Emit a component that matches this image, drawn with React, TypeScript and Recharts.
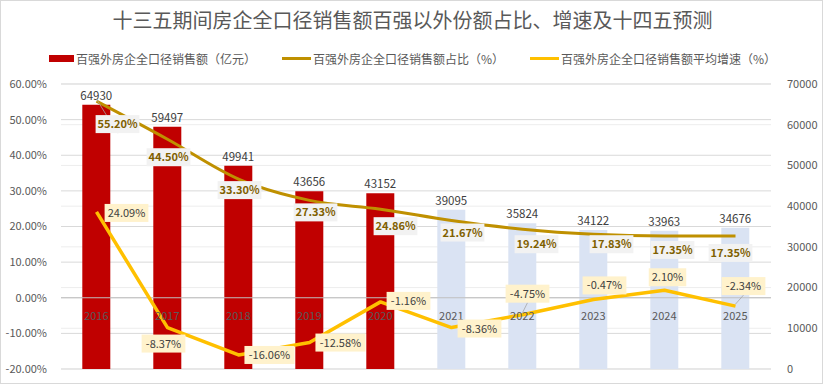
import React from 'react';
import {
  ComposedChart,
  Bar,
  Line,
  XAxis,
  YAxis,
  CartesianGrid,
  ReferenceLine,
  LabelList,
  Cell
} from "recharts";

const years = ['2016', '2017', '2018', '2019', '2020', '2021', '2022', '2023', '2024', '2025'];
// 百强外房企全口径销售额（亿元）
const sales = [64930, 59497, 49941, 43656, 43152, 39095, 35824, 34122, 33963, 34676];
// 占比（%）
const share = [55.20, 44.50, 33.30, 27.33, 24.86, 21.67, 19.24, 17.83, 17.35, 17.35];
// 平均增速（%）
const growth = [24.09, -8.37, -16.06, -12.58, -1.16, -8.36, -4.75, -0.47, 2.10, -2.34];
const forecastFrom = '2021';

const leftTicks = [-20, -10, 0, 10, 20, 30, 40, 50, 60];
const rightTicks = [0, 10000, 20000, 30000, 40000, 50000, 60000, 70000];

const data = years.map((year, i) => ({
  year,
  sales: sales[i],
  share: share[i],
  growth: growth[i]
}));

// label nudges, copied from where excel put them
const shareNudge = [[21, 23], [1, 18], [1, 11], [6, 12], [15, 17], [11, 12], [14, 15], [18, 10], [8, 14], [-5, 17]];
const growthNudge = [[30, 1], [-4, 16], [31, 0], [31, 0], [28, -1], [28, 1], [5, -21], [11, -14], [3, -13], [8, -20]];

const FONT = '"Noto Sans CJK SC", "Noto Sans", sans-serif';

const boxLabel = (nudge: number[][], bg: string, color: string, bold: boolean) => (props: any) => {
  const { x, y, value, index } = props;
  const [dx, dy] = nudge[index];
  const text = value.toFixed(2) + '%';
  const w = text.length * 6.3 + 6;
  const h = 18;
  const cx = x + dx;
  const cy = y + dy;
  return (
    <g>
      {Math.abs(dy) > 18 && (
        <line x1={cx} y1={cy + h / 2} x2={x} y2={y - 2} stroke="#a6a6a6" strokeWidth={0.8} />
      )}
      <rect x={cx - w / 2} y={cy - h / 2} width={w} height={h} fill={bg} />
      <text x={cx} y={cy} dy={4} textAnchor="middle" fontSize={11} fontFamily={FONT}
        fill={color} fontWeight={bold ? 'bold' : 'normal'}>{text}</text>
    </g>
  );
};

const legendItems = [
  { name: '百强外房企全口径销售额（亿元）', color: '#C00000', type: 'rect' },
  { name: '百强外房企全口径销售额占比（%）', color: '#BF9000', type: 'line' },
  { name: '百强外房企全口径销售额平均增速（%）', color: '#FFC000', type: 'line' }
];

const App = () => {
  return (
    <div style={{ position: 'absolute', left: 0, top: 0, width: 823, height: 384, background: '#fff', border: '1px solid #d9d9d9', boxSizing: 'border-box', fontFamily: FONT }}>
      <div style={{ position: 'absolute', top: 4, left: 0, width: 823, textAlign: 'center', fontSize: 20, color: '#595959' }}>
        十三五期间房企全口径销售额百强以外份额占比、增速及十四五预测
      </div>
      <div style={{ position: 'absolute', top: 49, left: 0, width: 823, display: 'flex', justifyContent: 'center', gap: 26, fontSize: 12, color: '#595959' }}>
        {legendItems.map((it) => (
          <div key={it.name} style={{ display: 'flex', alignItems: 'center', gap: 2 }}>
            {it.type === 'rect'
              ? <span style={{ width: 25, height: 7, background: it.color, display: 'inline-block' }} />
              : <span style={{ width: 29, height: 3, background: it.color, display: 'inline-block' }} />}
            <span>{it.name}</span>
          </div>
        ))}
      </div>
      <ComposedChart
        width={823}
        height={384}
        data={data}
        margin={{ top: 83, right: 0, left: 0, bottom: 16 }}
        barCategoryGap="30%"
      >
        <CartesianGrid yAxisId="right" vertical={false} stroke="#ededed" />
        <CartesianGrid yAxisId="left" vertical={false} stroke="#d9d9d9" />
        <XAxis dataKey="year" hide />
        <YAxis yAxisId="left" domain={[-20, 60]} ticks={leftTicks} width={60}
          axisLine={false} tickLine={false} tickMargin={8}
          tick={{ fontSize: 11, fill: '#595959', fontFamily: FONT }}
          tickFormatter={(v) => v.toFixed(2) + '%'} />
        <YAxis yAxisId="right" orientation="right" domain={[0, 70000]} ticks={rightTicks} width={53}
          axisLine={false} tickLine={false} tickMargin={10}
          tick={{ fontSize: 11, fill: '#595959', fontFamily: FONT }} />
        <ReferenceLine yAxisId="left" y={0} stroke="#bfbfbf" />
        <Bar yAxisId="right" dataKey="sales" isAnimationActive={false}>
          {data.map((d) => (
            <Cell key={d.year} fill={d.year >= forecastFrom ? '#DAE3F3' : '#C00000'} />
          ))}
          <LabelList dataKey="sales" position="top" offset={5} fill="#404040" fontSize={11.5} fontFamily={FONT} />
          <LabelList dataKey="year" position="insideBottom" offset={49} fill="#595959" fontSize={11} fontFamily={FONT} />
        </Bar>
        <Line yAxisId="left" type="monotone" dataKey="share" stroke="#BF9000" strokeWidth={3}
          dot={false} isAnimationActive={false}>
          <LabelList dataKey="share" content={boxLabel(shareNudge, '#F2F2F2', '#7F6000', true)} />
        </Line>
        <Line yAxisId="left" type="linear" dataKey="growth" stroke="#FFC000" strokeWidth={3.5}
          strokeLinejoin="round" dot={false} isAnimationActive={false}>
          <LabelList dataKey="growth" content={boxLabel(growthNudge, '#FFF2CC', '#404040', false)} />
        </Line>
      </ComposedChart>
    </div>
  );
};

export default App;
